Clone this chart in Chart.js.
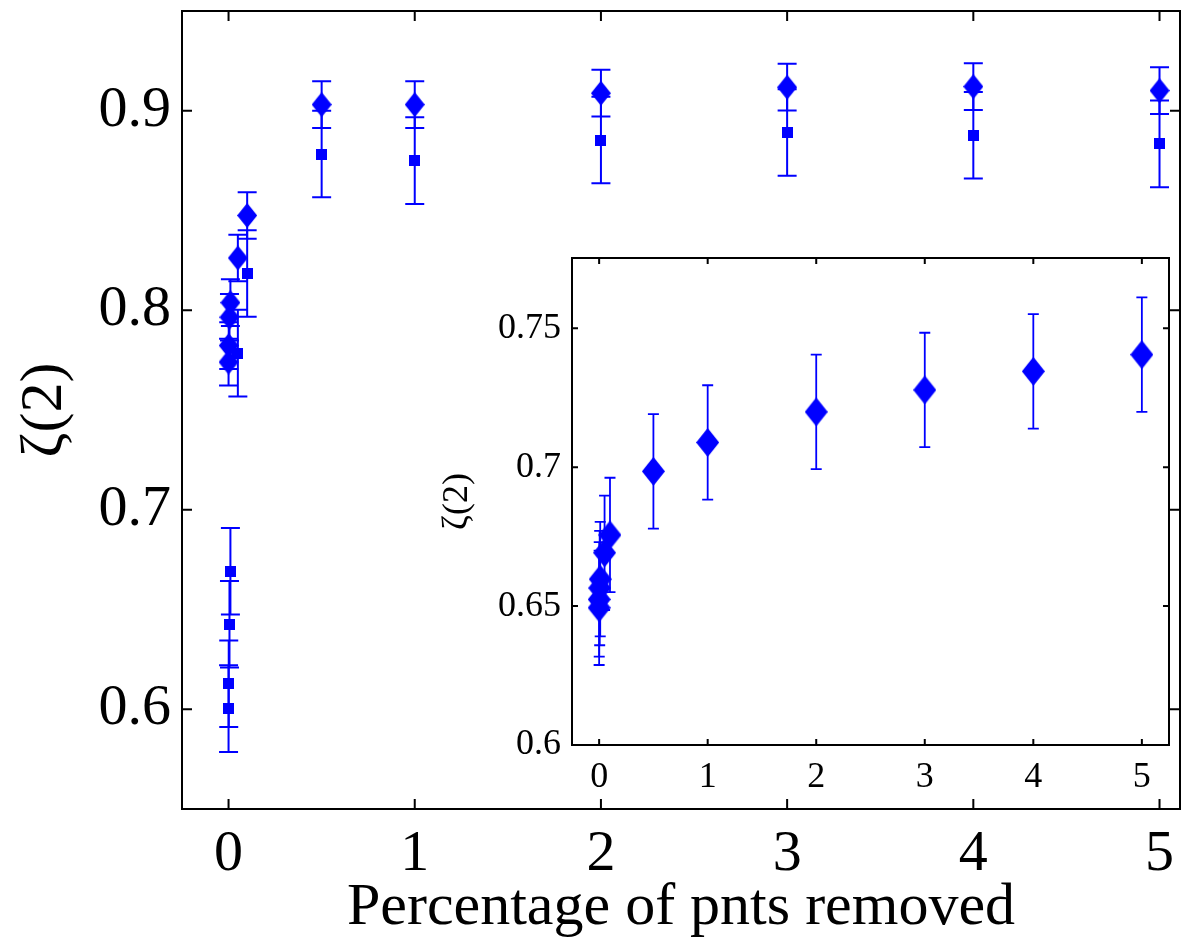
<!DOCTYPE html>
<html lang="en">
<head>
<meta charset="UTF-8" />
<title>zeta(2) vs percentage of points removed</title>
<style>
  html, body { margin: 0; padding: 0; background: #fff; overflow: hidden; }
  #wrap { position: relative; width: 1194px; height: 943px; }
  #mainChart { position: absolute; left: 0; top: 0; }
  #insetChart { position: absolute; left: 430px; top: 245px; }
</style>
</head>
<body>
<div id="wrap">
  <canvas id="mainChart" width="1194" height="943"></canvas>
  <canvas id="insetChart" width="760" height="560"></canvas>
</div>

<script src="https://cdn.jsdelivr.net/npm/chart.js"></script>
<script>
// percentage of points removed, shared by every series
const pctRemoved = [0, 0.001, 0.005, 0.01, 0.05, 0.1, 0.5, 1, 2, 3, 4, 5];

// main panel: diamonds and squares, each with its error
const zetaDiamond = [0.774, 0.7823, 0.7965, 0.8038, 0.8262, 0.8475, 0.9031, 0.9031, 0.9088, 0.9118, 0.9121, 0.9101];
const errDiamond  = [0.0117, 0.0117, 0.0117, 0.0117, 0.0117, 0.0117, 0.0117, 0.0117, 0.0117, 0.0117, 0.0117, 0.0117];
const zetaSquare  = [0.6003, 0.6128, 0.6426, 0.6692, 0.7785, 0.8184, 0.8783, 0.875, 0.8853, 0.8891, 0.8877, 0.8834];
const errSquare   = [0.0217, 0.0217, 0.0217, 0.0217, 0.0217, 0.0217, 0.0217, 0.0217, 0.0217, 0.0217, 0.0217, 0.0217];

// inset panel
const zetaInset = [0.6494, 0.6524, 0.6565, 0.6597, 0.6692, 0.6756, 0.6985, 0.7089, 0.7199, 0.7278, 0.7345, 0.7405];
const errInset  = [0.0206, 0.0206, 0.0206, 0.0206, 0.0206, 0.0206, 0.0206, 0.0206, 0.0206, 0.0206, 0.0206, 0.0206];

// tick labels
const mainXTicks  = [0, 1, 2, 3, 4, 5];
const mainYTicks  = [0.6, 0.7, 0.8, 0.9];
const insetXTicks = [0, 1, 2, 3, 4, 5];
const insetYTicks = [0.6, 0.65, 0.7, 0.75];

const BLUE = '#0000ff';
const SERIF = "'Liberation Serif', 'Times New Roman', serif";

// marker bitmaps (matlab style: tall diamond, small square)
function diamondMark(w, h) {
  const c = document.createElement('canvas');
  c.width = w; c.height = h;
  const g = c.getContext('2d');
  g.fillStyle = BLUE;
  g.beginPath();
  g.moveTo(w / 2, 0);
  g.lineTo(w, h / 2);
  g.lineTo(w / 2, h);
  g.lineTo(0, h / 2);
  g.closePath();
  g.fill();
  return c;
}
function squareMark(s) {
  const c = document.createElement('canvas');
  c.width = s; c.height = s;
  const g = c.getContext('2d');
  g.fillStyle = BLUE;
  g.fillRect(0, 0, s, s);
  return c;
}

const points = ys => pctRemoved.map((x, i) => ({ x: x, y: ys[i] }));

// vertical error bars with caps
const errorBars = {
  id: 'errorBars',
  afterDatasetsDraw(chart, args, opts) {
    const { ctx } = chart;
    const xs = chart.scales.x, ys = chart.scales.y;
    const hw = opts.capWidth / 2;
    ctx.save();
    ctx.strokeStyle = opts.color;
    ctx.lineWidth = opts.lineWidth;
    chart.data.datasets.forEach(ds => {
      ds.data.forEach((p, i) => {
        const e = ds.errors[i];
        const px = xs.getPixelForValue(p.x);
        const top = ys.getPixelForValue(p.y + e);
        const bot = ys.getPixelForValue(p.y - e);
        ctx.beginPath();
        ctx.moveTo(px, top); ctx.lineTo(px, bot);
        ctx.moveTo(px - hw, top); ctx.lineTo(px + hw, top);
        ctx.moveTo(px - hw, bot); ctx.lineTo(px + hw, bot);
        ctx.stroke();
      });
    });
    ctx.restore();
  }
};

// closed box with inward ticks on all four sides
const boxTicks = {
  id: 'boxTicks',
  afterDraw(chart, args, opts) {
    const { ctx, chartArea: a } = chart;
    const xs = chart.scales.x, ys = chart.scales.y;
    ctx.save();
    ctx.strokeStyle = '#000';
    ctx.lineWidth = opts.lineWidth;
    ctx.beginPath();
    xs.ticks.forEach(t => {
      const px = xs.getPixelForValue(t.value);
      ctx.moveTo(px, a.bottom); ctx.lineTo(px, a.bottom - opts.len);
      ctx.moveTo(px, a.top); ctx.lineTo(px, a.top + opts.len);
    });
    ys.ticks.forEach(t => {
      const py = ys.getPixelForValue(t.value);
      ctx.moveTo(a.left, py); ctx.lineTo(a.left + opts.len, py);
      ctx.moveTo(a.right, py); ctx.lineTo(a.right - opts.len, py);
    });
    ctx.stroke();
    ctx.strokeRect(a.left, a.top, a.right - a.left, a.bottom - a.top);
    ctx.restore();
  }
};

function axis(o) {
  return {
    type: 'linear',
    min: o.min,
    max: o.max,
    afterBuildTicks: s => { s.ticks = o.ticks.map(v => ({ value: v })); },
    afterFit: s => {
      if (o.width) s.width = o.width;
      if (o.height) s.height = o.height;
      s.paddingTop = 0; s.paddingBottom = 0;
      s.paddingLeft = 0; s.paddingRight = 0;
    },
    grid: { display: false, drawTicks: false },
    border: { display: false },
    ticks: {
      color: '#000',
      autoSkip: false,
      maxRotation: 0,
      padding: o.pad,
      font: { family: SERIF, size: o.tickSize, lineHeight: 1 },
      callback: v => String(v)
    },
    title: {
      display: true,
      text: o.title,
      color: '#000',
      font: { family: SERIF, size: o.titleSize, lineHeight: 1 },
      padding: o.titlePad
    }
  };
}

new Chart(document.getElementById('mainChart'), {
  type: 'scatter',
  data: {
    datasets: [
      { data: points(zetaDiamond), errors: errDiamond, pointStyle: diamondMark(20, 25), pointRadius: 10 },
      { data: points(zetaSquare), errors: errSquare, pointStyle: squareMark(11), pointRadius: 6 }
    ]
  },
  options: {
    responsive: false,
    animation: false,
    events: [],
    layout: { padding: { top: 7, right: 14, left: 0, bottom: 0 } },
    scales: {
      x: axis({ min: -0.25, max: 5.11, ticks: mainXTicks, height: 134, pad: 17, tickSize: 58,
                title: 'Percentage of pnts removed', titleSize: 60, titlePad: { top: 0, bottom: 5 } }),
      y: axis({ min: 0.55, max: 0.95, ticks: mainYTicks, width: 182, pad: 11, tickSize: 58,
                title: '\u03b6(2)', titleSize: 60, titlePad: { top: 15, bottom: 0 } })
    },
    plugins: {
      legend: { display: false },
      tooltip: { enabled: false },
      errorBars: { color: BLUE, lineWidth: 2, capWidth: 19 },
      boxTicks: { lineWidth: 2, len: 10 }
    }
  },
  plugins: [errorBars, boxTicks]
});

new Chart(document.getElementById('insetChart'), {
  type: 'scatter',
  data: {
    datasets: [
      { data: points(zetaInset), errors: errInset, pointStyle: diamondMark(23, 29), pointRadius: 12 }
    ]
  },
  options: {
    responsive: false,
    animation: false,
    events: [],
    layout: { padding: { top: 8, right: 21, left: 0, bottom: 0 } },
    scales: {
      x: axis({ min: -0.25, max: 5.25, ticks: insetXTicks, height: 60, pad: 15, tickSize: 36,
                title: '', titleSize: 32, titlePad: 0 }),
      y: axis({ min: 0.6, max: 0.7753, ticks: insetYTicks, width: 142, pad: 11, tickSize: 36,
                title: '\u03b6(2)', titleSize: 36, titlePad: { top: 10, bottom: 0 } })
    },
    plugins: {
      legend: { display: false },
      tooltip: { enabled: false },
      errorBars: { color: BLUE, lineWidth: 1.8, capWidth: 11 },
      boxTicks: { lineWidth: 2, len: 6 }
    }
  },
  plugins: [errorBars, boxTicks]
});
</script>
</body>
</html>
